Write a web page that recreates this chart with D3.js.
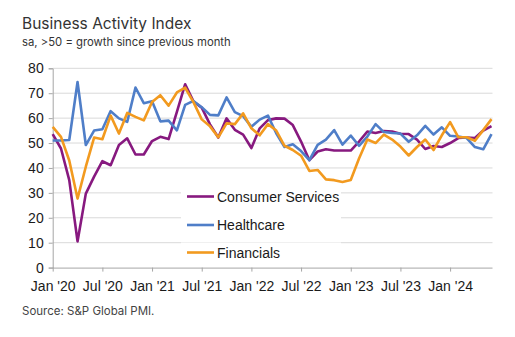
<!DOCTYPE html>
<html>
<head>
<meta charset="utf-8">
<script src="https://cdn.jsdelivr.net/npm/d3@7/dist/d3.min.js"></script>
<style>
  html, body { margin: 0; padding: 0; background: #fff; }
  svg { display: block; }
</style>
</head>
<body>
<svg id="chart" width="515" height="337"></svg>
<script>
// Monthly survey readings, Jan 2020 – Jun 2024
const startYear = 2020;
const monthCount = 54;

const consumerServices = [
  53.6, 47.8, 35.1, 10.5, 29.7, 36.5, 42.7, 41.1, 49.2, 51.9, 45.4, 45.4,
  50.8, 52.5, 51.6, 62.5, 73.6, 66.7, 64.2, 57.5, 52.2, 59.9, 55.3, 53.4,
  48.0, 55.9, 59.2, 59.9, 59.8, 57.2, 50.6, 43.1, 46.6, 47.5, 47.0, 47.0,
  47.0, 50.6, 54.6, 54.0, 54.8, 54.6, 53.7, 53.6, 51.4, 47.6, 48.8, 48.4,
  50.0, 52.0, 52.2, 52.0, 55.0, 56.8
];

const healthcare = [
  51.0, 51.0, 51.2, 74.5, 49.2, 55.0, 55.5, 62.8, 59.9, 58.5, 72.3, 66.0,
  66.8, 58.7, 59.0, 55.1, 65.3, 66.9, 64.4, 61.3, 61.1, 68.3, 62.4, 60.8,
  56.5, 59.4, 61.0, 53.9, 48.4, 49.5, 46.8, 43.1, 49.3, 51.4, 55.2, 49.4,
  53.0, 48.9, 52.6, 57.6, 54.4, 54.0, 53.8, 50.5, 53.1, 56.9, 53.4, 56.3,
  52.9, 52.6, 52.0, 48.4, 47.5, 53.6
];

const financials = [
  56.5, 52.5, 43.0, 27.7, 40.5, 52.2, 51.5, 61.0, 53.8, 62.1, 60.5, 59.1,
  66.5, 69.2, 65.0, 70.3, 72.2, 66.4, 59.5, 56.7, 52.3, 57.9, 57.6, 61.9,
  55.9, 53.1, 57.6, 55.0, 48.9, 47.2, 44.9, 38.8, 39.2, 35.4, 35.1, 34.4,
  35.2, 43.8, 51.4, 50.0, 53.4, 51.4, 48.6, 45.0, 48.4, 51.4, 47.2, 53.1,
  58.4, 52.3, 52.3, 50.9, 55.2, 59.6
];

const seriesNames = ["Consumer Services", "Healthcare", "Financials"];
const seriesColors = ["#87197f", "#4f7ec8", "#f29a1f"];

const xTickMonths = [0, 6, 12, 18, 24, 30, 36, 42, 48];
const xTickLabels = ["Jan '20", "Jul '20", "Jan '21", "Jul '21", "Jan '22",
                     "Jul '22", "Jan '23", "Jul '23", "Jan '24"];
const yTicks = [0, 10, 20, 30, 40, 50, 60, 70, 80];

const svg = d3.select("#chart");

const plot = { left: 52.7, right: 491.5, top: 68.3, bottom: 267.6 };

const x = d3.scaleLinear().domain([0, monthCount - 1]).range([plot.left, plot.right]);
const y = d3.scaleLinear().domain([0, 80]).range([plot.bottom, plot.top]);

// Titles
svg.append("text")
  .attr("x", 22).attr("y", 29)
  .attr("font-family", "Inter, 'Open Sans', sans-serif")
  .attr("font-size", 15.5)
  .attr("fill", "#333")
  .text("Business Activity Index");

svg.append("text")
  .attr("x", 22).attr("y", 46)
  .attr("font-family", "Inter, 'Open Sans', sans-serif")
  .attr("font-size", 11.3)
  .attr("fill", "#333")
  .text("sa, >50 = growth since previous month");

// Horizontal gridlines
svg.append("g")
  .selectAll("line")
  .data(yTicks.filter(d => d > 0))
  .join("line")
  .attr("x1", plot.left).attr("x2", plot.right + 1)
  .attr("y1", d => y(d)).attr("y2", d => y(d))
  .attr("stroke", "#d9d9d9").attr("stroke-width", 1);

// Y axis
const yAxis = svg.append("g")
  .attr("transform", `translate(${plot.left},0)`)
  .call(d3.axisLeft(y).tickValues(yTicks).tickSize(4).tickPadding(5));
yAxis.select(".domain").attr("stroke", "#a6a6a6");
yAxis.selectAll(".tick line").attr("stroke", "#a6a6a6");
yAxis.selectAll("text")
  .attr("font-family", "'Liberation Sans', Arial, sans-serif")
  .attr("font-size", 14).attr("fill", "#1a1a1a");

// X axis
const xAxis = svg.append("g")
  .attr("transform", `translate(0,${plot.bottom})`)
  .call(d3.axisBottom(x)
    .tickValues(xTickMonths)
    .tickFormat((d, i) => xTickLabels[i])
    .tickSize(4).tickPadding(9)
    .tickSizeOuter(0));
xAxis.select(".domain").attr("stroke", "#a6a6a6").attr("d", `M${plot.left},0.5H${plot.right + 1}`);
xAxis.selectAll(".tick line").attr("stroke", "#a6a6a6");
xAxis.selectAll("text")
  .attr("font-family", "'Liberation Sans', Arial, sans-serif")
  .attr("font-size", 14).attr("fill", "#1a1a1a");

// Lines
const line = d3.line()
  .x((d, i) => x(i))
  .y(d => y(d));

const allSeries = [consumerServices, healthcare, financials];
// draw order: Consumer, Healthcare, Financials on top
svg.append("g")
  .selectAll("path")
  .data(allSeries)
  .join("path")
  .attr("d", d => line(d))
  .attr("fill", "none")
  .attr("stroke", (d, i) => seriesColors[i])
  .attr("stroke-width", 2.6)
  .attr("stroke-linejoin", "round");

// Legend
const legend = svg.append("g");
const legendRows = [196.5, 225, 252.5];
seriesNames.forEach((name, i) => {
  legend.append("rect")
    .attr("x", 181).attr("y", legendRows[i] - 10)
    .attr("width", 160).attr("height", 20)
    .attr("fill", "#fff");
  legend.append("line")
    .attr("x1", 187).attr("x2", 214)
    .attr("y1", legendRows[i]).attr("y2", legendRows[i])
    .attr("stroke", seriesColors[i]).attr("stroke-width", 2.6);
  legend.append("text")
    .attr("x", 217).attr("y", legendRows[i] + 5)
    .attr("font-family", "'Liberation Sans', Arial, sans-serif")
    .attr("font-size", 14).attr("fill", "#1a1a1a")
    .text(name);
});

// Source note
svg.append("text")
  .attr("x", 22).attr("y", 315)
  .attr("font-family", "Inter, 'Open Sans', sans-serif")
  .attr("font-size", 11.5)
  .attr("fill", "#444")
  .text("Source: S&P Global PMI.");
</script>
</body>
</html>
